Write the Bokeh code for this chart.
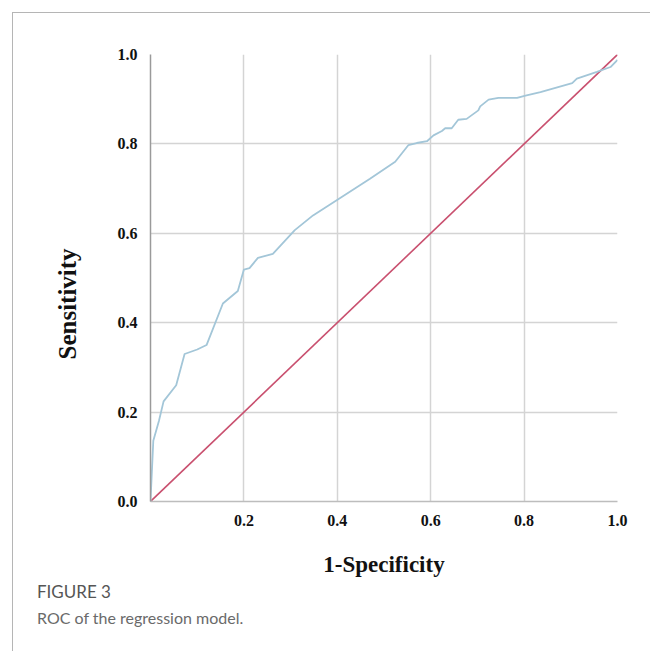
from bokeh.plotting import figure
from bokeh.models import Range1d, FixedTicker, Title
from bokeh.embed import file_html
from bokeh.resources import INLINE

# ROC curve
fpr = [0.0, 0.006, 0.018, 0.028, 0.055, 0.073, 0.10, 0.12, 0.155, 0.187, 0.20,
       0.212, 0.23, 0.262, 0.309, 0.348, 0.402, 0.47, 0.524, 0.552, 0.570, 0.592,
       0.606, 0.624, 0.631, 0.645, 0.659, 0.677, 0.702, 0.706, 0.724, 0.745, 0.785,
       0.803, 0.835, 0.903, 0.913, 0.956, 0.985, 1.0]
tpr = [0.0, 0.136, 0.18, 0.224, 0.26, 0.33, 0.34, 0.35, 0.443, 0.471, 0.519,
       0.522, 0.545, 0.554, 0.607, 0.64, 0.676, 0.722, 0.76, 0.797, 0.802, 0.806,
       0.819, 0.829, 0.835, 0.835, 0.854, 0.856, 0.875, 0.884, 0.899, 0.903, 0.903,
       0.908, 0.916, 0.936, 0.946, 0.961, 0.972, 0.988]
# reference line
diag_x = [0.0, 1.0]
diag_y = [0.0, 1.0]

x_ticks = [0.2, 0.4, 0.6, 0.8, 1.0]
x_tick_labels = ["0.2", "0.4", "0.6", "0.8", "1.0"]
y_ticks = [0.0, 0.2, 0.4, 0.6, 0.8, 1.0]
y_tick_labels = ["0.0", "0.2", "0.4", "0.6", "0.8", "1.0"]

x_title = "1-Specificity"
y_title = "Sensitivity"
caption_head = "FIGURE 3"
caption_text = "ROC of the regression model."

p = figure(width=638, height=639, output_backend="svg", toolbar_location=None,
           x_range=Range1d(0, 1), y_range=Range1d(0, 1),
           min_border_left=137, min_border_right=34,
           min_border_top=41, min_border_bottom=151)
p.styles = {"margin-left": "12px", "margin-top": "12px",
            "border-left": "1.5px solid #b5b5b5", "border-top": "1.5px solid #b5b5b5"}
p.outline_line_color = None
p.background_fill_color = "white"
p.border_fill_color = "white"

p.xaxis.ticker = FixedTicker(ticks=x_ticks)
p.yaxis.ticker = FixedTicker(ticks=y_ticks)
p.xaxis.major_label_overrides = dict(zip(x_ticks, x_tick_labels))
p.yaxis.major_label_overrides = dict(zip(y_ticks, y_tick_labels))
p.xgrid.ticker = FixedTicker(ticks=x_ticks)
p.ygrid.ticker = FixedTicker(ticks=y_ticks)
p.grid.grid_line_color = "#d4d4d4"
p.grid.grid_line_width = 1.5

for ax in (p.xaxis, p.yaxis):
    ax.major_tick_line_color = None
    ax.minor_tick_line_color = None
    ax.major_label_text_font = "Liberation Serif"
    ax.major_label_text_font_style = "bold"
    ax.major_label_text_font_size = "16px"
    ax.major_label_text_color = "#111111"
    ax.major_label_standoff = 7
p.xaxis.axis_line_color = "#bdbdbd"
p.yaxis.axis_line_color = "#9a9a9a"
p.xaxis.axis_line_width = 1.5
p.yaxis.axis_line_width = 1.5

p.xaxis.axis_label = x_title
p.xaxis.axis_label_text_font = "Liberation Serif"
p.xaxis.axis_label_text_font_style = "bold"
p.xaxis.axis_label_text_font_size = "23px"
p.xaxis.axis_label_text_color = "#111111"
p.xaxis.axis_label_standoff = 23

p.line(diag_x, diag_y, line_color="#c9506f", line_width=1.6)
p.line(fpr, tpr, line_color="#a3c6d8", line_width=1.8)

p.add_layout(Title(text=y_title, align="left", offset=142, standoff=67,
                   text_font="Liberation Serif", text_font_style="bold",
                   text_font_size="25px", text_color="#111111"), "left")
p.add_layout(Title(text=caption_head, align="left", offset=-113.5, standoff=-1,
                   text_font="Lato", text_font_size="17px",
                   text_font_style="normal", text_color="#555555"), "below")
p.add_layout(Title(text=caption_text, align="left", offset=-113.5, standoff=8,
                   text_font="Lato", text_font_size="16px",
                   text_font_style="normal", text_color="#6a6a6a"), "below")

open("out.html", "w").write(file_html(p, INLINE))
